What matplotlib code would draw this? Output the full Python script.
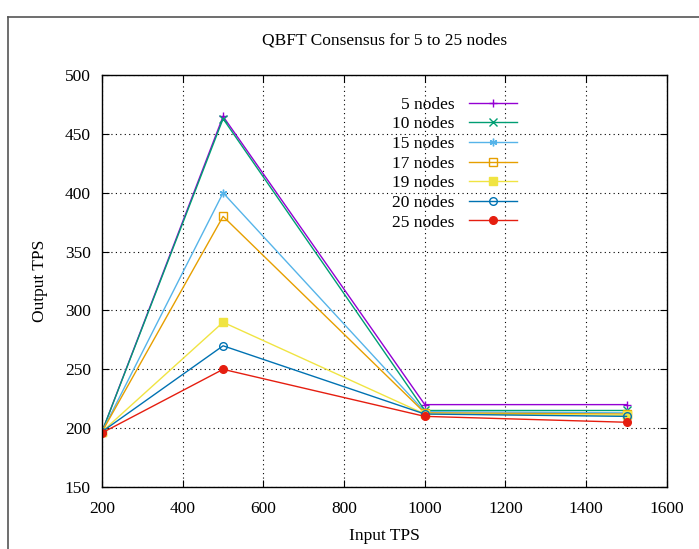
import matplotlib.pyplot as plt
from matplotlib.lines import Line2D

plt.rcParams['font.family'] = ['Liberation Serif', 'DejaVu Serif']

# input rates
inputTps = [200, 500, 1000, 1500]

# output TPS per node count
nodes5 = [197, 465, 220, 220]
nodes10 = [197, 463, 215, 215]
nodes15 = [197, 400, 214, 213]
nodes17 = [197, 380, 213, 212]
nodes19 = [197, 290, 212, 211]
nodes20 = [197, 270, 212, 210]
nodes25 = [196, 250, 210, 205]

labels = ['5 nodes', '10 nodes', '15 nodes', '17 nodes', '19 nodes', '20 nodes', '25 nodes']
series = [nodes5, nodes10, nodes15, nodes17, nodes19, nodes20, nodes25]
colors = ['#9400d3', '#009e73', '#56b4e9', '#e69f00', '#f0e442', '#0072b2', '#e51e10']
markers = ['+', 'x', (6, 2, 0), 's', 's', 'o', 'o']
fills = [True, True, True, False, True, False, True]

fig = plt.figure(figsize=(6.99, 5.49), dpi=100)
ax = fig.add_axes([0.146, 0.113, 0.808, 0.750])

for vals, lab, col, mk, filled in zip(series, labels, colors, markers, fills):
    ax.plot(inputTps, vals, color=col, linewidth=1, marker=mk, markersize=5.5,
            markerfacecolor=col if filled else 'none', markeredgecolor=col,
            markeredgewidth=1, label=lab)

ax.set_xlim(200, 1600)
ax.set_ylim(150, 500)
ax.set_xticks(range(200, 1601, 200))
ax.set_yticks(range(150, 501, 50))
ax.tick_params(axis='x', direction='in', top=True, labelsize=12.5, length=5, pad=10)
ax.tick_params(axis='y', direction='in', right=True, labelsize=12.5, length=5, pad=8)
ax.grid(True, color='black', linestyle=(0, (1, 3)), linewidth=0.8)
for s in ax.spines.values():
    s.set_linewidth(1)

ax.set_title('QBFT Consensus for 5 to 25 nodes', fontsize=12.5, pad=22)
ax.set_xlabel('Input TPS', fontsize=12.5, labelpad=8)
ax.set_ylabel('Output TPS', fontsize=12.5, labelpad=12)

ax.legend(loc='upper right', bbox_to_anchor=(0.735, 0.948), markerfirst=False,
          frameon=False, fontsize=12.5, handlelength=2.8, labelspacing=0.2,
          borderpad=0, borderaxespad=0, handletextpad=0.8)

# outer frame
fig.add_artist(Line2D([8/699, 8/699], [0, 1 - 17/549], color='#555555', linewidth=1.2))
fig.add_artist(Line2D([8/699, 1], [1 - 17/549, 1 - 17/549], color='#555555', linewidth=1.2))

fig.savefig('out.png', dpi=100)
